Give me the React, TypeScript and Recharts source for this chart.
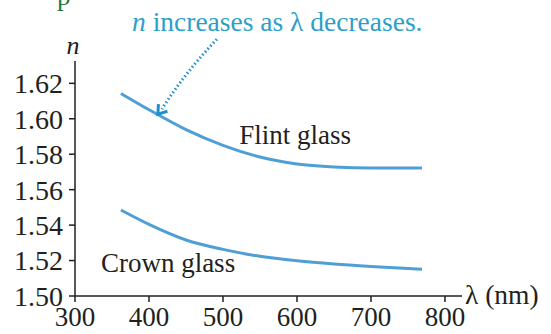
import React from "react";
import { LineChart, Line, XAxis, YAxis, ReferenceDot } from "recharts";

const wavelengths = [362, 400, 450, 500, 550, 600, 650, 700, 769];
const flintGlass = [1.6143, 1.6051, 1.5939, 1.585, 1.5784, 1.5745, 1.5728, 1.5722, 1.5722];
const crownGlass = [1.5485, 1.5404, 1.5316, 1.5263, 1.5224, 1.5199, 1.5181, 1.5167, 1.5151];
const xTicks = [300, 400, 500, 600, 700, 800];
const yTicks = [1.5, 1.52, 1.54, 1.56, 1.58, 1.6, 1.62];

const data = wavelengths.map((l, i) => ({ lambda: l, flint: flintGlass[i], crown: crownGlass[i] }));

const FONT = "Liberation Serif, Times New Roman, Times, DejaVu Serif, serif";
const INK = "#231f20";
const CURVE = "#4f9fd6";
const NOTE = "#2c9fc8";
const ARROW = "#1e8fcf";

const ArrowShape = (props: any) => {
  const { cx, cy } = props;
  if (cx == null || cy == null) return null;
  const tx = cx + 59;
  const ty = cy - 75;
  const len = Math.hypot(tx - cx, ty - cy);
  const ux = (tx - cx) / len;
  const uy = (ty - cy) / len;
  const a = (35 * Math.PI) / 180;
  const L = 10;
  const r1x = ux * Math.cos(a) - uy * Math.sin(a);
  const r1y = ux * Math.sin(a) + uy * Math.cos(a);
  const r2x = ux * Math.cos(-a) - uy * Math.sin(-a);
  const r2y = ux * Math.sin(-a) + uy * Math.cos(-a);
  return (
    <g>
      <path
        d={`M ${tx} ${ty} Q ${cx + 26} ${cy - 40} ${cx + 4} ${cy - 5}`}
        fill="none"
        stroke={ARROW}
        strokeWidth={3}
        strokeDasharray="1.5 2.5"
        strokeLinecap="butt"
      />
      <path
        d={`M ${cx + r1x * L} ${cy + r1y * L} L ${cx} ${cy} L ${cx + r2x * L} ${cy + r2y * L}`}
        fill="none"
        stroke={ARROW}
        strokeWidth={3}
      />
    </g>
  );
};

const TextAt = (text: string, dx: number, dy: number) => (props: any) => {
  const { cx, cy } = props;
  if (cx == null || cy == null) return null;
  return (
    <text x={cx + dx} y={cy + dy} fontFamily={FONT} fontSize={27} fill={INK}>
      {text}
    </text>
  );
};

export default function App() {
  return (
    <div style={{ position: "absolute", left: 0, top: 0, width: 551, height: 334, background: "#fff", fontFamily: FONT }}>
      <LineChart width={551} height={334} data={data} margin={{ top: 61, right: 89, bottom: 0, left: 0 }}>
        <XAxis
          type="number"
          dataKey="lambda"
          domain={[300, 823]}
          ticks={xTicks}
          interval={0}
          allowDataOverflow
          height={38}
          tickSize={6}
          tickMargin={5}
          axisLine={{ stroke: INK, strokeWidth: 1.5 }}
          tickLine={{ stroke: INK, strokeWidth: 1.5 }}
          tick={{ fill: INK, fontSize: 27, fontFamily: FONT }}
        />
        <YAxis
          type="number"
          domain={[1.5, 1.6326]}
          ticks={yTicks}
          interval={0}
          allowDataOverflow
          width={75}
          tickSize={6}
          tickMargin={6}
          tickFormatter={(v: number) => v.toFixed(2)}
          axisLine={{ stroke: INK, strokeWidth: 1.5 }}
          tickLine={{ stroke: INK, strokeWidth: 1.5 }}
          tick={{ fill: INK, fontSize: 28, fontFamily: FONT }}
        />
        <Line type="monotone" dataKey="flint" stroke={CURVE} strokeWidth={3} dot={false} isAnimationActive={false} />
        <Line type="monotone" dataKey="crown" stroke={CURVE} strokeWidth={3} dot={false} isAnimationActive={false} />
        <ReferenceDot x={412} y={1.6026} ifOverflow="visible" shape={ArrowShape} />
        <ReferenceDot x={522} y={1.58} ifOverflow="visible" shape={TextAt("Flint glass", 0, -10)} />
        <ReferenceDot x={335} y={1.52} ifOverflow="visible" shape={TextAt("Crown glass", 0, 11)} />
      </LineChart>
      <svg
        width={551}
        height={334}
        style={{ position: "absolute", left: 0, top: 0, pointerEvents: "none" }}
      >
        <text x={57} y={5} fontFamily={FONT} fontSize={27} fill="#1f7a45">p</text>
        <text x={132} y={31} fontFamily={FONT} fontSize={27.5} fill={NOTE}>
          <tspan fontStyle="italic">n</tspan> increases as λ decreases.
        </text>
        <text x={73} y={54} textAnchor="middle" fontFamily={FONT} fontSize={26} fontStyle="italic" fill={INK}>n</text>
        <text x={465} y={304} fontFamily={FONT} fontSize={27.5} fill={INK}>λ (nm)</text>
      </svg>
    </div>
  );
}
